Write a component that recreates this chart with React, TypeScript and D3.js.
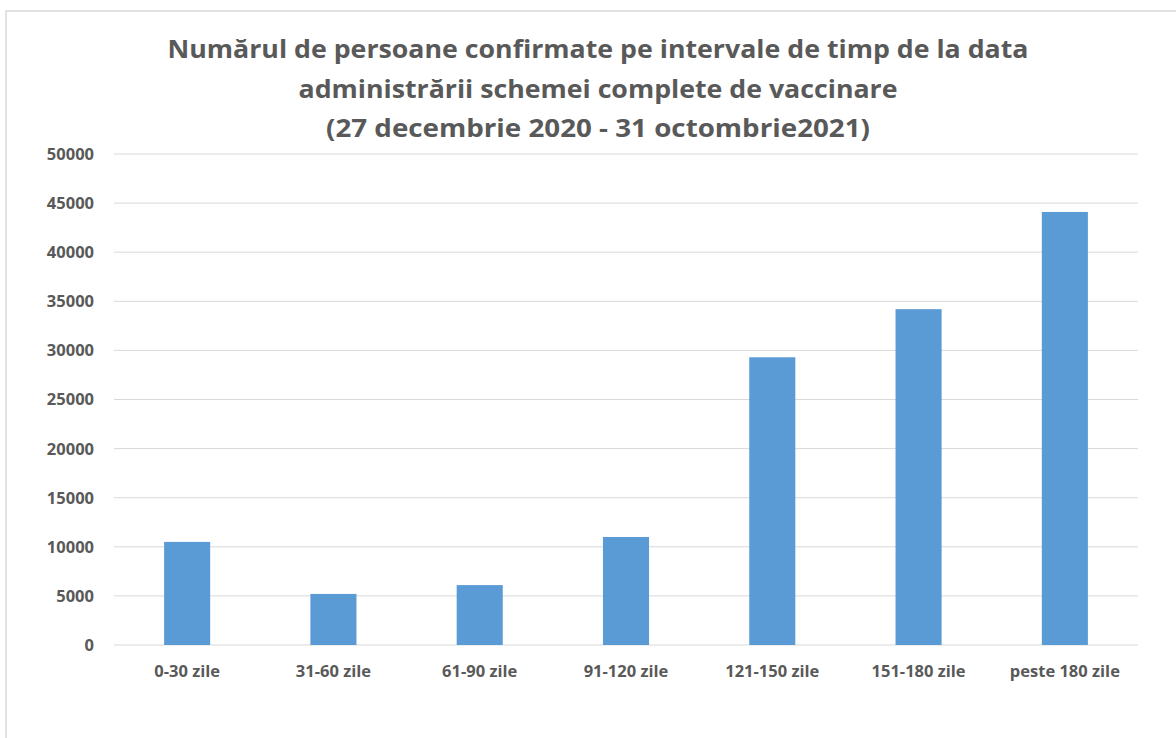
import React from 'react';
import * as d3 from 'd3';

const categories = ['0-30 zile', '31-60 zile', '61-90 zile', '91-120 zile', '121-150 zile', '151-180 zile', 'peste 180 zile'];
const values = [10500, 5200, 6100, 11000, 29300, 34200, 44100];
const yTicks = [0, 5000, 10000, 15000, 20000, 25000, 30000, 35000, 40000, 45000, 50000];
const titleLines = [
  'Numărul de persoane confirmate pe intervale de timp de la data',
  'administrării schemei complete de vaccinare',
  '(27 decembrie 2020 - 31 octombrie2021)',
];
// rendered widths of the title lines in the original
const titleWidths = [861, 599, 544];

const App = () => {
  const width = 1176;
  const height = 738;
  const font = '"Open Sans", Lato, sans-serif';
  const textColor = '#595959';

  // plot area
  const left = 114;
  const right = 1138;
  const top = 154;
  const bottom = 645;

  const x = d3.scaleBand<string>()
    .domain(categories)
    .range([left, right])
    .paddingInner(0.685)
    .paddingOuter(0.3425);

  const y = d3.scaleLinear()
    .domain([0, 50000])
    .range([bottom, top]);

  return (
    <svg
      width={width}
      height={height}
      style={{ position: 'absolute', left: 0, top: 0, background: '#fff' }}
    >
      <rect x={6} y={11} width={1200} height={760} fill="#fff" stroke="#d9d9d9" strokeWidth={1.5} />

      {titleLines.map((t, i) => (
        <text
          key={i}
          x={598}
          y={58 + i * 39.5}
          textAnchor="middle"
          fontFamily={font}
          fontWeight="bold"
          fontSize={24.5}
          fill={textColor}
          textLength={titleWidths[i]}
          lengthAdjust="spacingAndGlyphs"
        >
          {t}
        </text>
      ))}

      {/* gridlines */}
      {yTicks.map((t) => (
        <line key={t} x1={left} x2={right} y1={y(t)} y2={y(t)} stroke="#d9d9d9" strokeWidth={1} />
      ))}

      {/* y tick labels */}
      {yTicks.map((t) => (
        <text
          key={'l' + t}
          x={94}
          y={y(t)}
          dy="0.36em"
          textAnchor="end"
          fontFamily={font}
          fontWeight="bold"
          fontSize={16.5}
          fill={textColor}
        >
          {t}
        </text>
      ))}

      {/* bars */}
      {categories.map((c, i) => (
        <rect
          key={c}
          x={x(c)}
          y={y(values[i])}
          width={x.bandwidth()}
          height={y(0) - y(values[i])}
          fill="#5B9BD5"
        />
      ))}

      {/* x labels */}
      {categories.map((c) => (
        <text
          key={'x' + c}
          x={(x(c) as number) + x.bandwidth() / 2}
          y={677}
          textAnchor="middle"
          fontFamily={font}
          fontWeight="bold"
          fontSize={16.5}
          fill={textColor}
        >
          {c}
        </text>
      ))}
    </svg>
  );
};

export default App;
